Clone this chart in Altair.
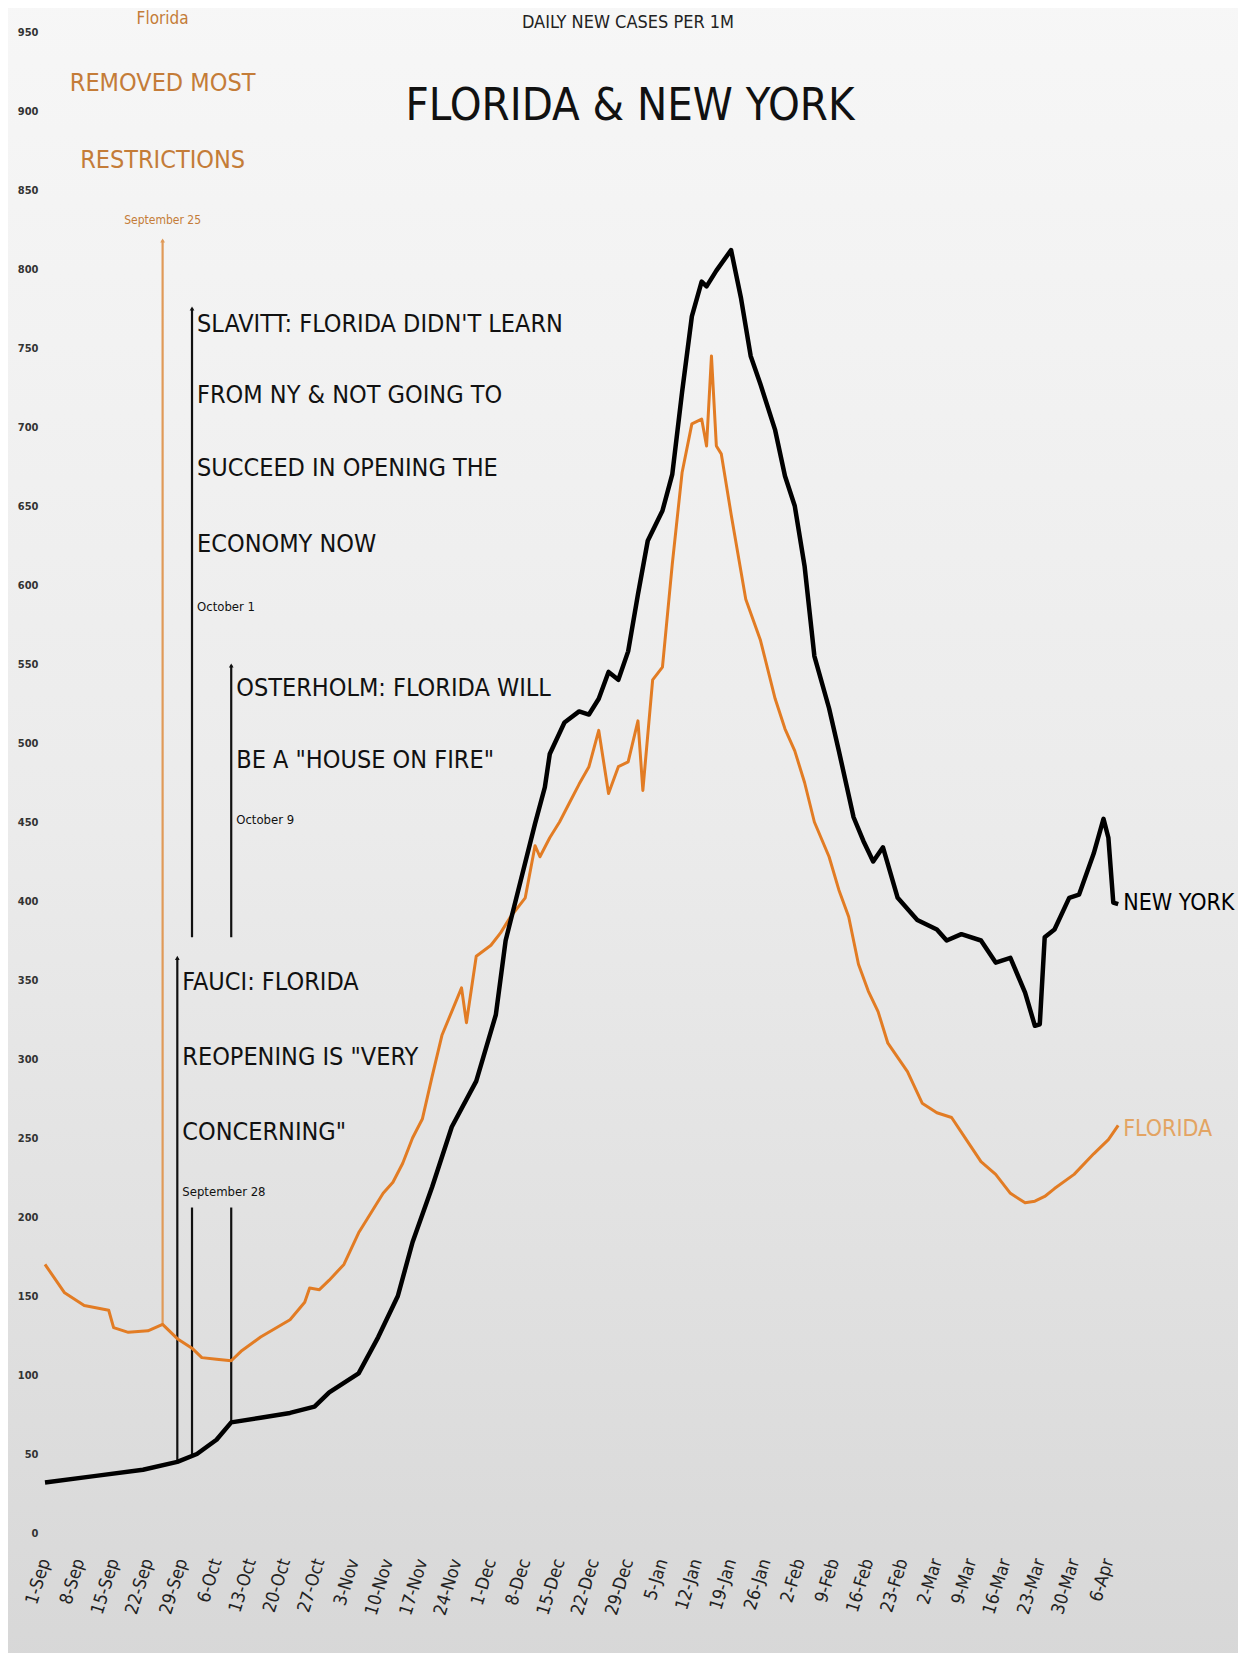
import altair as alt
import pandas as pd

# ---------------- data ----------------
NY_DATES = [
    "2020-09-01", "2020-09-11", "2020-09-21", "2020-09-28", "2020-10-02", "2020-10-06",
    "2020-10-09", "2020-10-15", "2020-10-21", "2020-10-26", "2020-10-29", "2020-11-04",
    "2020-11-08", "2020-11-12", "2020-11-15", "2020-11-19", "2020-11-23", "2020-11-28",
    "2020-12-02", "2020-12-04", "2020-12-07", "2020-12-10", "2020-12-12", "2020-12-13",
    "2020-12-16", "2020-12-19", "2020-12-21", "2020-12-23", "2020-12-25", "2020-12-27",
    "2020-12-29", "2020-12-31", "2021-01-02", "2021-01-05", "2021-01-07", "2021-01-09",
    "2021-01-11", "2021-01-13", "2021-01-14", "2021-01-16", "2021-01-19", "2021-01-21",
    "2021-01-23", "2021-01-25", "2021-01-28", "2021-01-30", "2021-02-01", "2021-02-03",
    "2021-02-05", "2021-02-08", "2021-02-10", "2021-02-13", "2021-02-15", "2021-02-17",
    "2021-02-19", "2021-02-22", "2021-02-26", "2021-03-02", "2021-03-04", "2021-03-07",
    "2021-03-11", "2021-03-14", "2021-03-17", "2021-03-20", "2021-03-22", "2021-03-23",
    "2021-03-24", "2021-03-26", "2021-03-29", "2021-03-31", "2021-04-03", "2021-04-05",
    "2021-04-06", "2021-04-07", "2021-04-08",
]
NY_VALUES = [
    32, 36, 40, 45, 50, 59,
    70, 73, 76, 80, 89, 101,
    124, 150, 184, 219, 257, 286,
    328, 375, 412, 449, 472, 493,
    513, 520, 518, 528, 545, 540,
    558, 594, 628, 647, 670, 722,
    770, 792, 789, 799, 812, 782,
    745, 727, 698, 669, 650, 612,
    555, 522, 495, 453, 438, 425,
    434, 402, 388, 382, 375, 379,
    375, 361, 364, 342, 321, 322,
    377, 382, 402, 404, 430, 452,
    440, 399, 398,
]

FL_DATES = [
    "2020-09-01", "2020-09-05", "2020-09-09", "2020-09-14", "2020-09-15", "2020-09-18",
    "2020-09-22", "2020-09-25", "2020-09-28", "2020-10-01", "2020-10-03", "2020-10-06",
    "2020-10-09", "2020-10-11", "2020-10-15", "2020-10-21", "2020-10-24", "2020-10-25",
    "2020-10-27", "2020-10-29", "2020-11-01", "2020-11-04", "2020-11-06", "2020-11-09",
    "2020-11-11", "2020-11-13", "2020-11-15", "2020-11-17", "2020-11-19", "2020-11-21",
    "2020-11-23", "2020-11-25", "2020-11-26", "2020-11-28", "2020-12-01", "2020-12-03",
    "2020-12-05", "2020-12-08", "2020-12-10", "2020-12-11", "2020-12-13", "2020-12-15",
    "2020-12-17", "2020-12-19", "2020-12-21", "2020-12-23", "2020-12-25", "2020-12-27",
    "2020-12-29", "2020-12-31", "2021-01-01", "2021-01-03", "2021-01-05", "2021-01-07",
    "2021-01-09", "2021-01-11", "2021-01-13", "2021-01-14", "2021-01-15", "2021-01-16",
    "2021-01-17", "2021-01-19", "2021-01-22", "2021-01-25", "2021-01-28", "2021-01-30",
    "2021-02-01", "2021-02-03", "2021-02-05", "2021-02-08", "2021-02-10", "2021-02-12",
    "2021-02-14", "2021-02-16", "2021-02-18", "2021-02-20", "2021-02-24", "2021-02-27",
    "2021-03-02", "2021-03-05", "2021-03-08", "2021-03-11", "2021-03-14", "2021-03-17",
    "2021-03-20", "2021-03-22", "2021-03-24", "2021-03-26", "2021-03-30", "2021-04-03",
    "2021-04-06", "2021-04-08",
]
FL_VALUES = [
    170, 152, 144, 141, 130, 127,
    128, 132, 123, 117, 111, 110,
    109, 115, 124, 135, 146, 155,
    154, 160, 170, 190, 200, 215,
    222, 234, 250, 262, 289, 315,
    330, 345, 323, 365, 372, 380,
    390, 402, 435, 428, 440, 450,
    462, 474, 485, 508, 468, 485,
    488, 514, 470, 540, 548, 613,
    671, 702, 705, 688, 745, 688,
    683, 645, 591, 565, 528, 509,
    495, 475, 450, 428, 407, 390,
    360, 343, 330, 310, 292, 272,
    266, 263, 249, 235, 227, 215,
    209, 210, 213, 218, 227, 240,
    249, 258,
]

TICK_DATES = [
    "2020-09-01", "2020-09-08", "2020-09-15", "2020-09-22", "2020-09-29",
    "2020-10-06", "2020-10-13", "2020-10-20", "2020-10-27",
    "2020-11-03", "2020-11-10", "2020-11-17", "2020-11-24",
    "2020-12-01", "2020-12-08", "2020-12-15", "2020-12-22", "2020-12-29",
    "2021-01-05", "2021-01-12", "2021-01-19", "2021-01-26",
    "2021-02-02", "2021-02-09", "2021-02-16", "2021-02-23",
    "2021-03-02", "2021-03-09", "2021-03-16", "2021-03-23", "2021-03-30",
    "2021-04-06",
]
Y_TICKS = [0, 50, 100, 150, 200, 250, 300, 350, 400, 450,
           500, 550, 600, 650, 700, 750, 800, 850, 900, 950]

# annotation rule segments (event date, top and bottom of each visible piece)
SEG_DATES = ["2020-09-25", "2020-09-28", "2020-10-01", "2020-10-01", "2020-10-09", "2020-10-09"]
SEG_TOP = [818, 364, 775, 206, 549, 206]
SEG_BOTTOM = [132, 45, 377, 50, 377, 70]
SEG_COLORS = ["#e09a58", "#111111", "#111111", "#111111", "#111111", "#111111"]

# small arrow heads at the top of each rule
ARROW_DATES = ["2020-09-25", "2020-09-28", "2020-10-01", "2020-10-09"]
ARROW_VALUES = [818, 364, 775, 549]
ARROW_COLORS = ["#e09a58", "#111111", "#111111", "#111111"]

# centred orange annotation
C_DATES = ["2020-09-25", "2020-09-25", "2020-09-25", "2020-09-25"]
C_VALUES = [958, 918, 869, 831]
C_TEXTS = ["Florida", "REMOVED MOST", "RESTRICTIONS", "September 25"]
C_SIZES = [17, 25, 25, 12]

# left aligned black annotations
L_DATES = ["2020-10-01"] * 5 + ["2020-10-09"] * 3 + ["2020-09-28"] * 4
L_VALUES = [765, 720, 674, 626, 586, 535, 489, 451, 349, 301, 254, 216]
L_TEXTS = [
    "SLAVITT: FLORIDA DIDN'T LEARN", "FROM NY & NOT GOING TO",
    "SUCCEED IN OPENING THE", "ECONOMY NOW", "October 1",
    "OSTERHOLM: FLORIDA WILL", 'BE A "HOUSE ON FIRE"', "October 9",
    "FAUCI: FLORIDA", 'REOPENING IS "VERY', 'CONCERNING"', "September 28",
]
L_SIZES = [25, 25, 25, 25, 13, 25, 25, 13, 25, 25, 25, 13]

END_DATES = ["2021-04-08", "2021-04-08"]
END_VALUES = [399, 256]
END_TEXTS = ["NEW YORK", "FLORIDA"]
END_COLORS = ["#000000", "#e3a463"]

FONT = "'Liberation Sans Narrow', 'DejaVu Sans Condensed', 'Roboto Condensed', sans-serif"
W, H = 1083, 1501


def dt(s):
    y, m, d = (int(p) for p in s.split("-"))
    return alt.DateTime(year=y, month=m, date=d, utc=True)


xscale = alt.Scale(type="utc", domain=[dt("2020-09-01"), dt("2021-04-10")])
yscale = alt.Scale(domain=[0, 950], nice=False, zero=False)
xaxis = alt.Axis(
    values=[dt(s) for s in TICK_DATES],
    labelExpr="utcFormat(datum.value, '%-d-%b')",
    labelAngle=-73, labelAlign="right", labelBaseline="middle",
    labelFont=FONT, labelFontSize=18, labelColor="#222222", labelPadding=26,
    labelOverlap=False, domain=False, ticks=False, grid=False, title=None, zindex=2,
)
yaxis = alt.Axis(
    values=Y_TICKS, labelFont=FONT, labelFontSize=11, labelFontWeight="bold",
    labelColor="#333333", labelPadding=7, labelOverlap=False, labelFlush=False,
    domain=False, ticks=False, grid=False, title=None, zindex=2,
)


def X(field="date"):
    return alt.X(f"{field}:T", scale=xscale, axis=xaxis)


def Y(field="value"):
    return alt.Y(f"{field}:Q", scale=yscale, axis=yaxis)


ny = pd.DataFrame({"date": NY_DATES, "value": NY_VALUES})
fl = pd.DataFrame({"date": FL_DATES, "value": FL_VALUES})
seg = pd.DataFrame({"date": SEG_DATES, "top": SEG_TOP, "bottom": SEG_BOTTOM, "color": SEG_COLORS})
arr = pd.DataFrame({"date": ARROW_DATES, "value": ARROW_VALUES, "color": ARROW_COLORS})
ctext = pd.DataFrame({"date": C_DATES, "value": C_VALUES, "text": C_TEXTS, "size": C_SIZES})
ltext = pd.DataFrame({"date": L_DATES, "value": L_VALUES, "text": L_TEXTS, "size": L_SIZES})
etext = pd.DataFrame({"date": END_DATES, "value": END_VALUES, "text": END_TEXTS, "color": END_COLORS})

bg = alt.Chart(pd.DataFrame({"k": [0]})).mark_rect(
    color=alt.Gradient(
        gradient="linear",
        stops=[alt.GradientStop(color="#f7f7f7", offset=0),
               alt.GradientStop(color="#ebebeb", offset=0.5),
               alt.GradientStop(color="#d7d7d7", offset=1)],
        x1=0, x2=0, y1=0, y2=1,
    )
).encode(x=alt.value(-60), x2=alt.value(W + 130), y=alt.value(-40), y2=alt.value(H + 140))

rules = alt.Chart(seg).mark_rule(strokeWidth=2.2).encode(
    x=X(), y=Y("top"), y2="bottom:Q", color=alt.Color("color:N", scale=None)
)
arrows = alt.Chart(arr).mark_point(shape="triangle-up", filled=True, size=22, opacity=1).encode(
    x=X(), y=Y(), color=alt.Color("color:N", scale=None)
)

fl_line = alt.Chart(fl).mark_line(color="#e27c24", strokeWidth=3, strokeJoin="round").encode(x=X(), y=Y())
ny_line = alt.Chart(ny).mark_line(color="#000000", strokeWidth=4.5, strokeJoin="round").encode(x=X(), y=Y())

c_txt = alt.Chart(ctext).mark_text(
    font=FONT, align="center", baseline="middle", color="#c47c38"
).encode(x=X(), y=Y(), text="text:N", size=alt.Size("size:Q", scale=None))

l_txt = alt.Chart(ltext).mark_text(
    font=FONT, align="left", baseline="middle", dx=5, color="#111111"
).encode(x=X(), y=Y(), text="text:N", size=alt.Size("size:Q", scale=None))

e_txt = alt.Chart(etext).mark_text(
    font=FONT, align="left", baseline="middle", dx=5, fontSize=23
).encode(x=X(), y=Y(), text="text:N", color=alt.Color("color:N", scale=None))

sub = alt.Chart(pd.DataFrame({"t": ["DAILY NEW CASES PER 1M"]})).mark_text(
    font=FONT, fontSize=18, align="center", baseline="middle", color="#222222"
).encode(x=alt.value(583), y=alt.value(-9), text="t:N")
title = alt.Chart(pd.DataFrame({"t": ["FLORIDA & NEW YORK"]})).mark_text(
    font=FONT, fontSize=45, align="center", baseline="middle", color="#111111"
).encode(x=alt.value(585), y=alt.value(74), text="t:N")

chart = alt.layer(
    bg, rules, arrows, fl_line, ny_line, c_txt, l_txt, e_txt, sub, title
).properties(
    width=W, height=H,
    autosize=alt.AutoSizeParams(type="none"),
    padding={"left": 37, "top": 24, "right": 110, "bottom": 120},
).configure(background="#e4e4e4").configure_view(stroke=None)

chart.save("out.html", embed_options={"renderer": "svg", "actions": False})
